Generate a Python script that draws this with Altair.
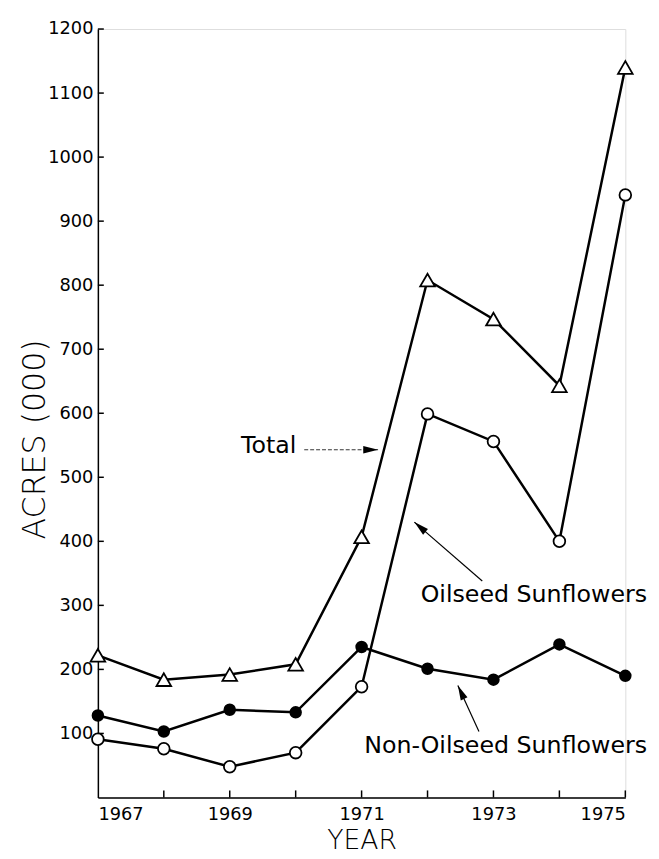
import altair as alt
import pandas as pd

years = [1967, 1968, 1969, 1970, 1971, 1972, 1973, 1974, 1975]
total = [222, 184, 192, 208, 407, 808, 747, 643, 1140]
oilseed = [91, 76, 48, 70, 173, 599, 556, 400, 941]
non_oilseed = [128, 103, 137, 133, 235, 201, 184, 239, 190]

y_ticks = [100, 200, 300, 400, 500, 600, 700, 800, 900, 1000, 1100, 1200]
x_ticks = [1968, 1969, 1970, 1971, 1972, 1973, 1974, 1975]
x_labels = [1967, 1969, 1971, 1973, 1975]

# annotations (data coordinates)
ann_text = ["Total", "Oilseed Sunflowers", "Non-Oilseed Sunflowers"]
ann_x = [1969.59, 1975.33, 1975.33]
ann_y = [548, 316, 80]
ann_align = ["center", "right", "right"]

arrow_x = [1970.13, 1972.83, 1972.78]
arrow_y = [543, 338, 103]
arrow_x2 = [1971.25, 1971.80, 1972.46]
arrow_y2 = [543, 430, 175]
arrow_angle = [90, 311, 335]
arrow_dash = [True, False, False]

FONT = "DejaVu Sans"

df = pd.DataFrame({
    "year": years * 3,
    "value": total + oilseed + non_oilseed,
    "series": ["Total"] * 9 + ["Oilseed"] * 9 + ["Non-Oilseed"] * 9,
})

xs = alt.Scale(domain=[1967, 1975], nice=False, zero=False)
ys = alt.Scale(domain=[0, 1200], nice=False, zero=True)

x_axis = alt.Axis(values=x_labels, format="d", ticks=False, tickSize=0, grid=False,
                  labelFontSize=18, labelFont=FONT, labelColor="black", labelPadding=8,
                  domainColor="black", domainWidth=1.5, title="YEAR",
                  titleFont=FONT, titleFontSize=27, titleFontWeight=300, titleColor="black",
                  titleY=44, titleBaseline="middle")
y_axis = alt.Axis(values=y_ticks, format="d", ticks=False, tickSize=0, grid=False,
                  labelFontSize=18, labelFont=FONT, labelColor="black", labelPadding=5,
                  domainColor="black", domainWidth=1.5, title="ACRES (000)",
                  titleFont=FONT, titleFontSize=32, titleFontWeight=300, titleColor="black",
                  titleAngle=270, titleX=-64, titleY=415, titleBaseline="middle",
                  titleAlign="center")

X = alt.X("year:Q", scale=xs, axis=x_axis)
Y = alt.Y("value:Q", scale=ys, axis=y_axis)

lines = alt.Chart(df).mark_line(color="black", strokeWidth=2.5).encode(
    x=X, y=Y, detail="series:N")

def pts(name, shape, fill, size):
    return alt.Chart(df[df.series == name]).mark_point(
        shape=shape, fill=fill, stroke="black", strokeWidth=1.8, opacity=1,
        filled=False, fillOpacity=1, size=size).encode(x="year:Q", y="value:Q")

tri = pts("Total", "triangle-up", "white", 220)
opn = pts("Oilseed", "circle", "white", 140)
fil = alt.Chart(df[df.series == "Non-Oilseed"]).mark_point(
    shape="circle", filled=True, color="black", opacity=1, size=160).encode(
    x="year:Q", y="value:Q")

ytick_df = pd.DataFrame({"v": y_ticks, "x0": [1967] * len(y_ticks),
                         "x1": [1967.09] * len(y_ticks)})
ytick_rules = alt.Chart(ytick_df).mark_rule(color="black", strokeWidth=1.5).encode(
    x="x0:Q", x2="x1:Q", y="v:Q")

xtick_df = pd.DataFrame({"yr": x_ticks, "y0": [0] * len(x_ticks),
                         "y1": [11] * len(x_ticks)})
xtick_rules = alt.Chart(xtick_df).mark_rule(color="black", strokeWidth=1.5).encode(
    x="yr:Q", y="y0:Q", y2="y1:Q")

arr_df = pd.DataFrame({"x": arrow_x, "y": arrow_y, "x2": arrow_x2, "y2": arrow_y2,
                       "angle": arrow_angle, "dash": arrow_dash})
shaft_dashed = alt.Chart(arr_df[arr_df.dash]).mark_rule(
    color="#333", strokeWidth=1, strokeDash=[4, 2]).encode(
    x="x:Q", y="y:Q", x2="x2:Q", y2="y2:Q")
shaft_solid = alt.Chart(arr_df[~arr_df.dash]).mark_rule(
    color="black", strokeWidth=1.2).encode(
    x="x:Q", y="y:Q", x2="x2:Q", y2="y2:Q")
heads = alt.Chart(arr_df).mark_point(
    shape="M0,0 L-0.25,1 L0.25,1 Z", filled=True, color="black", opacity=1,
    size=900).encode(
    x="x2:Q", y="y2:Q", angle=alt.Angle("angle:Q", scale=None))

ann_df = pd.DataFrame({"t": ann_text, "x": ann_x, "y": ann_y, "a": ann_align})
txt_c = alt.Chart(ann_df[ann_df.a == "center"]).mark_text(
    font=FONT, fontSize=24, color="black", align="center",
    baseline="middle").encode(x="x:Q", y="y:Q", text="t:N")
txt_r = alt.Chart(ann_df[ann_df.a == "right"]).mark_text(
    font=FONT, fontSize=24, color="black", align="right",
    baseline="middle").encode(x="x:Q", y="y:Q", text="t:N")

chart = alt.layer(
    lines, ytick_rules, xtick_rules, shaft_dashed, shaft_solid, heads,
    tri, opn, fil, txt_c, txt_r
).properties(
    width=534, height=778,
    autosize=alt.AutoSizeParams(type="none"),
    padding={"left": 91, "top": 16, "right": 26, "bottom": 57},
).configure_view(stroke=None).configure(background="white")

chart.save("out.html", embed_options={"renderer": "svg", "actions": False})
